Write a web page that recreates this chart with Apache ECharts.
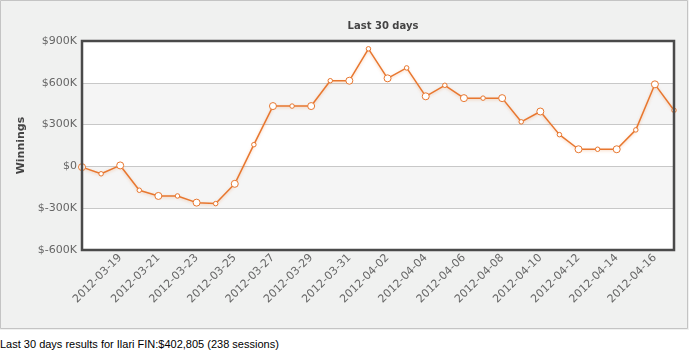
<!DOCTYPE html>
<html><head><meta charset="utf-8">
<script src="https://cdn.jsdelivr.net/npm/echarts@6/dist/echarts.min.js"></script>
<style>
html,body{margin:0;padding:0;background:#fff;}
#chart{position:absolute;left:0;top:0;width:689px;height:330px;}
#note{position:absolute;left:0;top:338px;font-family:"Liberation Sans",Arial,sans-serif;font-size:11px;color:#000;line-height:13px;white-space:nowrap;}
</style></head>
<body>
<div id="chart"></div>
<div id="note">Last 30 days results for Ilari FIN:$402,805 (238 sessions)</div>
<script>
const categories = ['2012-03-17','2012-03-18','2012-03-19','2012-03-20','2012-03-21','2012-03-22','2012-03-23','2012-03-24','2012-03-25','2012-03-26','2012-03-27','2012-03-28','2012-03-29','2012-03-30','2012-03-31','2012-04-01','2012-04-02','2012-04-03','2012-04-04','2012-04-05','2012-04-06','2012-04-07','2012-04-08','2012-04-09','2012-04-10','2012-04-11','2012-04-12','2012-04-13','2012-04-14','2012-04-15','2012-04-16','2012-04-17'];
const winnings = [-5000,-53000,7000,-171000,-212000,-212000,-260000,-267000,-125000,156000,433000,433000,433000,615000,615000,844000,632000,707000,503000,582000,490000,490000,490000,320000,394000,228000,123000,123000,123000,262000,589000,402805];
const yTicks = [-600000,-300000,0,300000,600000,900000];

const chart = echarts.init(document.getElementById('chart'), null, {renderer:'canvas'});
const font = '"DejaVu Sans", Verdana, sans-serif';
chart.setOption({
  backgroundColor:'#f0f1f0',
  animation:false,
  title:{text:'Last 30 days',left:378,textAlign:'center',top:16,
    textStyle:{fontFamily:font,fontSize:10,fontWeight:'bold',color:'#444'}},
  graphic:[{type:'rect',shape:{x:0.5,y:0.5,width:687,height:328},
    style:{fill:null,stroke:'#c4c4c4',lineWidth:1},silent:true,z:-1},
    {type:'rect',shape:{x:82,y:41,width:592,height:209},style:{fill:'#fff'},silent:true,z:-1},
    {type:'rect',shape:{x:82,y:41,width:592,height:209},style:{fill:null,stroke:'#4a4a4a',lineWidth:2.5},silent:true,z:100}],
  grid:{left:82,top:41,width:592,height:209,show:false},
  xAxis:{type:'category',data:categories,boundaryGap:false,
    axisLine:{show:false},axisTick:{show:false},
    axisLabel:{rotate:45,color:'#666',fontFamily:font,fontSize:11,margin:6,
      interval:function(i){return i>0 && i%2===0;}},
    splitLine:{show:false}},
  yAxis:{type:'value',min:yTicks[0],max:yTicks[yTicks.length-1],interval:300000,
    name:'Winnings',nameLocation:'middle',nameGap:55,nameRotate:90,
    nameTextStyle:{fontFamily:font,fontSize:11,fontWeight:'bold',color:'#444'},
    axisLine:{show:false},axisTick:{show:false},
    axisLabel:{color:'#666',fontFamily:font,fontSize:11,margin:5,
      formatter:function(v){return v===0?'$0':'$'+(v/1000)+'K';}},
    splitLine:{lineStyle:{color:'#c8c8c8',width:1}},
    splitArea:{show:true,areaStyle:{color:['#ffffff','#f5f5f5']}}},
  series:[{type:'line',data:winnings,z:5,
    lineStyle:{color:'#e8772f',width:1.5,shadowColor:'rgba(232,119,47,0.35)',shadowBlur:3,shadowOffsetY:1},
    itemStyle:{color:'#fff',borderColor:'#e8772f',borderWidth:1},
    symbol:'circle',showAllSymbol:true,
    symbolSize:function(v,p){return p.dataIndex%2===0?7:4.5;},
    emphasis:{disabled:true}}]
});
</script>
</body></html>
